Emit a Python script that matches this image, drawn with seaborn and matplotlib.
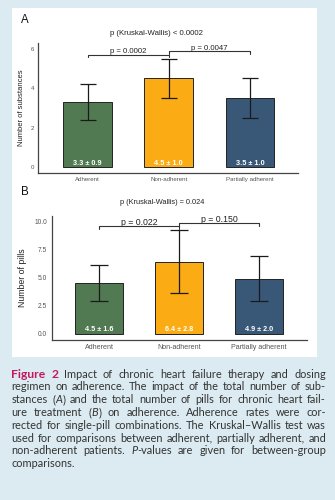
import re
import numpy as np
import pandas as pd
import matplotlib
matplotlib.use("Agg")
import matplotlib.pyplot as plt
from matplotlib.patches import Rectangle
import seaborn as sns

# ---------------- data ----------------
groups = ["Adherent", "Non-adherent", "Partially adherent"]
colors = ["#527a52", "#fbab14", "#395878"]

subst_mean = [3.3, 4.5, 3.5]
subst_sd = [0.9, 1.0, 1.0]
subst_ticks = [0, 2, 4, 6]
subst_ticklabels = ["0", "2", "4", "6"]
subst_title = "p (Kruskal-Wallis) < 0.0002"
subst_pairs = [(0, 1), (1, 2)]
subst_pvals = ["p = 0.0002", "p = 0.0047"]

pills_mean = [4.5, 6.4, 4.9]
pills_sd = [1.6, 2.8, 2.0]
pills_ticks = [0, 2.5, 5, 7.5, 10]
pills_ticklabels = ["0.0", "2.5", "5.0", "7.5", "10.0"]
pills_title = "p (Kruskal-Wallis) = 0.024"
pills_pairs = [(0, 1), (1, 2)]
pills_pvals = ["p = 0.022", "p = 0.150"]

caption_lines = [
    "*Figure* *2* Impact of chronic heart failure therapy and dosing",
    "regimen on adherence. The impact of the total number of sub-",
    "stances (_A_) and the total number of pills for chronic heart fail-",
    "ure treatment (_B_) on adherence. Adherence rates were cor-",
    "rected for single-pill combinations. The Kruskal\u2013Wallis test was",
    "used for comparisons between adherent, partially adherent, and",
    "non-adherent patients. _P_-values are given for between-group",
    "comparisons.",
]

# ---------------- layout ----------------
W, H = 335, 500
sns.set_theme(style="white")
plt.rcParams["font.family"] = ["Liberation Sans", "DejaVu Sans"]

fig = plt.figure(figsize=(W / 100, H / 100), dpi=100)
fig.patch.set_facecolor("#dcebf1")
fig.add_artist(Rectangle((12 / W, 1 - 357 / H), 305 / W, 349 / H,
                         transform=fig.transFigure, facecolor="white",
                         edgecolor="none", zorder=0))


def px(x, y):
    return x / W, 1 - y / H


axA = fig.add_axes([38 / W, 1 - 173 / H, 260 / W, 130 / H])
axB = fig.add_axes([52 / W, 1 - 340 / H, 255 / W, 124 / H])


def panel(ax, means, sds, ylim, xlim, ticks, ticklabels, ylabel, ylab_x,
          pairs, pvals, bh, fs):
    df = pd.DataFrame({"group": groups, "mean": means, "sd": sds})
    sns.barplot(data=df, x="group", y="mean", hue="group", palette=colors,
                width=0.6, edgecolor="#222222", linewidth=0.7, errorbar=None,
                saturation=1, legend=False, ax=ax)
    ax.errorbar(x=np.arange(len(groups)), y=df["mean"], yerr=df["sd"],
                fmt="none", ecolor="#1a1a1a", elinewidth=0.9,
                capsize=fs["cap"], capthick=0.9, zorder=5)
    for i, (m, s) in enumerate(zip(means, sds)):
        ax.annotate(f"{m:.1f} \u00b1 {s:.1f}", xy=(i, 0), xytext=(0, 4),
                    textcoords="offset pixels", ha="center", va="center",
                    color="white", fontweight="bold", fontsize=fs["bar"],
                    zorder=6)
    ax.set_ylim(*ylim)
    ax.set_xlim(*xlim)
    ppu = ax.get_position().height * H / (ylim[1] - ylim[0])
    tick = 2.5 / ppu
    for (a, b), lab, h in zip(pairs, pvals, bh):
        ax.plot([a, a, b, b], [h - tick, h, h, h - tick], color="#333333",
                lw=0.8, clip_on=False, zorder=6)
        ax.annotate(lab, xy=((a + b) / 2, h), xytext=(0, 1.5),
                    textcoords="offset pixels", ha="center", va="baseline",
                    fontsize=fs["p"], color="#222222", annotation_clip=False)
    ax.set_yticks(ticks)
    ax.set_yticklabels(ticklabels)
    ax.set_xlabel("")
    ax.set_ylabel(ylabel, fontsize=fs["ylab"], color="#222222")
    ax.yaxis.set_label_coords(ylab_x, 0.5)
    ax.tick_params(axis="both", length=0, labelcolor="#555555")
    ax.tick_params(axis="y", labelsize=fs["yt"], pad=fs["ypad"])
    ax.tick_params(axis="x", labelsize=fs["xt"], pad=3)
    ax.set_facecolor("none")
    sns.despine(ax=ax)
    for sp in ("left", "bottom"):
        ax.spines[sp].set_color("#444444")
        ax.spines[sp].set_linewidth(0.9)


panel(axA, subst_mean, subst_sd, (-0.3, 6.3), (-0.61, 2.59),
      subst_ticks, subst_ticklabels, "Number of substances", -0.05,
      subst_pairs, subst_pvals, [5.7, 5.87],
      dict(cap=6, bar=5.3, p=5.6, ylab=5.5, yt=4.4, xt=4.4, ypad=2.5))
panel(axB, pills_mean, pills_sd, (-0.54, 10.45), (-0.59, 2.6),
      pills_ticks, pills_ticklabels, "Number of pills", -0.098,
      pills_pairs, pills_pvals, [9.53, 9.82],
      dict(cap=6.5, bar=5.2, p=6.3, ylab=6.3, yt=4.8, xt=5.1, ypad=3.5))

fig.text(*px(157, 33), subst_title, ha="center", va="center", fontsize=5.6,
         color="#222222")
fig.text(*px(162, 202), pills_title, ha="center", va="center", fontsize=5.3,
         color="#222222")
fig.text(*px(21, 20), "A", ha="left", va="center", fontsize=8.3, color="#111111")
fig.text(*px(21, 192), "B", ha="left", va="center", fontsize=8.3, color="#111111")

# ---------------- caption (justified) ----------------
cap_font = ["Lato", "DejaVu Sans"]
cap_fs = 7.9
cap_left, cap_right = 11.5, 326
base0, dy = 377.7, 12.8
renderer = fig.canvas.get_renderer()


def seg_style(kind):
    if kind == "b":
        return dict(fontweight="bold", color="#c4175c", fontsize=cap_fs * 1.1)
    if kind == "i":
        return dict(style="italic", color="#333333", fontsize=cap_fs)
    return dict(color="#333333", fontsize=cap_fs)


def parse(word):
    segs = []
    for tok in re.split(r"(\*[^*]+\*|_[^_]+_)", word):
        if not tok:
            continue
        if tok.startswith("*"):
            segs.append((tok[1:-1], "b"))
        elif tok.startswith("_"):
            segs.append((tok[1:-1], "i"))
        else:
            segs.append((tok, "n"))
    return segs


def twidth(text, kind):
    t = fig.text(0, 0, text, family=cap_font, **seg_style(kind))
    w = t.get_window_extent(renderer).width
    t.remove()
    return w


space_w = twidth("a a", "n") - twidth("aa", "n")
for li, line in enumerate(caption_lines):
    words = [parse(w) for w in line.split(" ")]
    widths = [[twidth(s, k) for s, k in wsegs] for wsegs in words]
    total = sum(sum(ws) for ws in widths)
    last = li == len(caption_lines) - 1
    gap = space_w if last or len(words) < 2 else \
        (cap_right - cap_left - total) / (len(words) - 1)
    x = cap_left
    y = base0 + li * dy
    for wsegs, ws in zip(words, widths):
        for (s, k), w in zip(wsegs, ws):
            fig.text(x / W, 1 - y / H, s, family=cap_font, ha="left",
                     va="baseline", **seg_style(k))
            x += w
        x += gap

fig.savefig("out.png", dpi=100, facecolor=fig.get_facecolor())
